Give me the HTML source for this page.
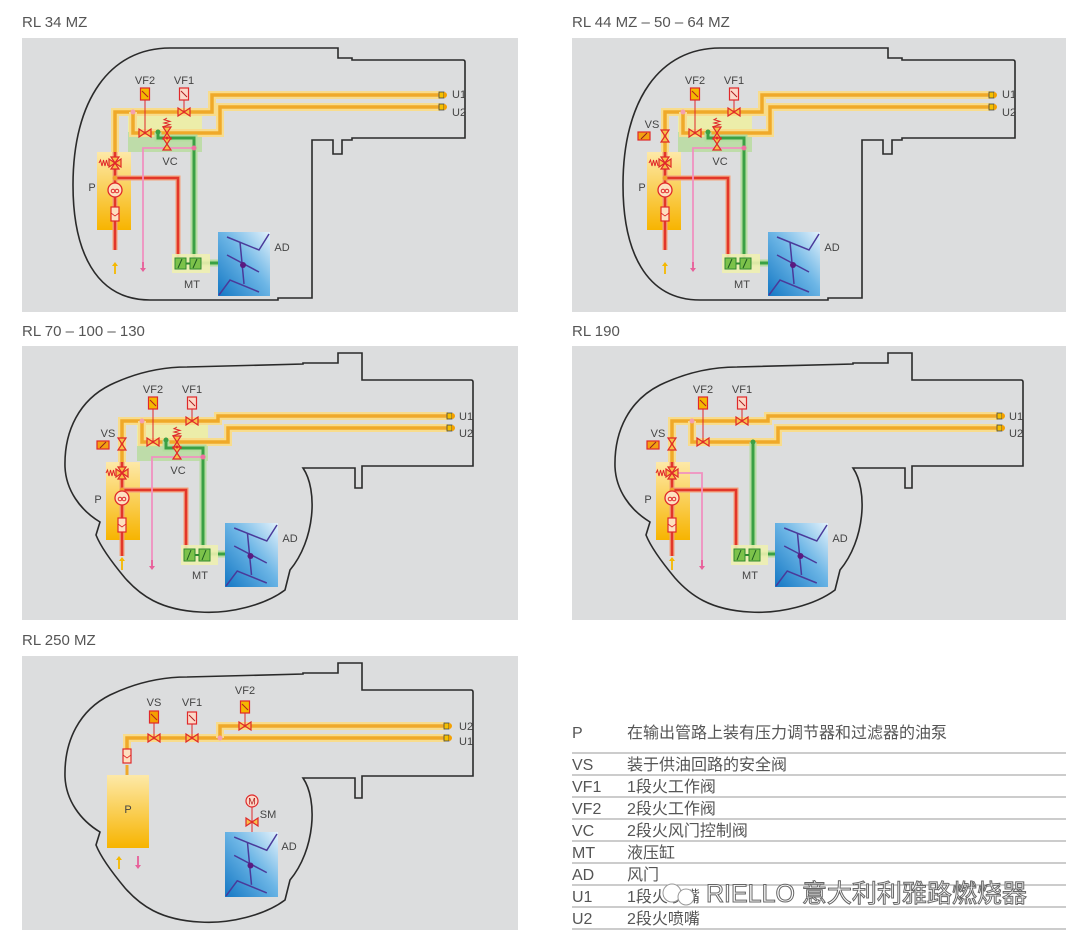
<!DOCTYPE html>
<html><head><meta charset="utf-8">
<style>
html,body{margin:0;padding:0;background:#fff;}
body{width:1080px;height:942px;overflow:hidden;}
svg{display:block;}
.t{font-family:"Liberation Sans",sans-serif;font-size:15px;fill:#555;}
.l{font-family:"Liberation Sans",sans-serif;font-size:11px;fill:#444;}
.lg{font-family:"Liberation Sans","Noto Sans CJK SC",sans-serif;font-size:16px;fill:#555;}
</style></head>
<body>
<svg id="s" width="1080" height="942" xmlns="http://www.w3.org/2000/svg">
<defs>
<linearGradient id="pg" x1="0" y1="0" x2="0" y2="1"><stop offset="0" stop-color="#fde9a8"/><stop offset="1" stop-color="#f7b400"/></linearGradient>
<linearGradient id="ag" x1="0" y1="1" x2="1" y2="0"><stop offset="0" stop-color="#1478c4"/><stop offset="0.55" stop-color="#6db6e6"/><stop offset="1" stop-color="#e4f2fb"/></linearGradient>
</defs>
</svg>
<script>
var S='';
function P(pts){return pts.map(function(p){return p[0]+','+p[1]}).join(' ');}
function line(pts,c,w){S+='<polyline points="'+P(pts)+'" fill="none" stroke="'+c+'" stroke-width="'+w+'" stroke-linejoin="miter"/>';}
function pipe(pts){line(pts,'#f8dc8c',8);line(pts,'#efa92a',3.5);}
function red(pts){line(pts,'#f3a07a',5);line(pts,'#e2362a',2.5);}
function green(pts){line(pts,'#b5dca0',7);line(pts,'#3aa044',3);}
function pink(pts){line(pts,'#f090c0',1.8);}
function rect(x,y,w,h,f,st,op){S+='<rect x="'+x+'" y="'+y+'" width="'+w+'" height="'+h+'" fill="'+f+'"'+(st?' stroke="'+st+'" stroke-width="1"':'')+(op?' opacity="'+op+'"':'')+'/>';}
function dot(x,y,c,r){S+='<circle cx="'+x+'" cy="'+y+'" r="'+(r||2.5)+'" fill="'+c+'"/>';}
function txt(x,y,t,cls,anchor){S+='<text x="'+x+'" y="'+y+'" class="'+(cls||'l')+'"'+(anchor?' text-anchor="'+anchor+'"':' text-anchor="middle"')+'>'+t+'</text>';}
function valve(x,y,vert){
  var d=vert?'M'+(x-4)+','+(y-6)+' L'+(x+4)+','+(y-6)+' L'+(x-4)+','+(y+6)+' L'+(x+4)+','+(y+6)+' Z':'M'+(x-6)+','+(y-4)+' L'+(x-6)+','+(y+4)+' L'+(x+6)+','+(y-4)+' L'+(x+6)+','+(y+4)+' Z';
  S+='<path d="'+d+'" fill="#f7c04a" stroke="#e0282a" stroke-width="1.2"/>';
}
function sol(x,y,f){S+='<rect x="'+(x-4.5)+'" y="'+(y-6)+'" width="9" height="12" fill="'+f+'" stroke="#e0282a" stroke-width="1.2"/><line x1="'+(x-3)+'" y1="'+(y-3)+'" x2="'+(x+3)+'" y2="'+(y+3)+'" stroke="#b02020" stroke-width="1"/>';}
function solH(x,y){S+='<rect x="'+(x-6)+'" y="'+(y-4)+'" width="12" height="8" fill="#f3a010" stroke="#e0282a" stroke-width="1.2"/><line x1="'+(x-3)+'" y1="'+(y+3)+'" x2="'+(x+3)+'" y2="'+(y-3)+'" stroke="#902020" stroke-width="1"/>';}
function spring(x,y1,y2,horiz){
  var d='',n=6,i;
  if(horiz){d='M'+y1+','+x;for(i=1;i<=n;i++){d+=' L'+(y1+(y2-y1)*i/n)+','+(x+(i%2?-3:3));}}
  else{d='M'+x+','+y1;for(i=1;i<=n;i++){d+=' L'+(x+(i%2?-3:3))+','+(y1+(y2-y1)*i/n);}}
  S+='<path d="'+d+'" fill="none" stroke="#e0282a" stroke-width="1"/>';
}
function fourway(x,y){valve(x,y,false);valve(x,y,true);spring(y,x-16,x-7,true);dot(x,y,'#e0282a',1.5);}
function pumpC(x,y){S+='<circle cx="'+x+'" cy="'+y+'" r="7" fill="#fde0c0" stroke="#e0282a" stroke-width="1.3"/><circle cx="'+(x-2)+'" cy="'+(y+1)+'" r="1.8" fill="none" stroke="#e0282a"/><circle cx="'+(x+2)+'" cy="'+(y+1)+'" r="1.8" fill="none" stroke="#e0282a"/>';}
function filt(x,y){S+='<rect x="'+(x-4)+'" y="'+(y-7)+'" width="8" height="14" fill="#fde0c0" stroke="#e0282a" stroke-width="1.2"/><path d="M'+(x-4)+','+(y-1)+' L'+x+','+(y+2)+' L'+(x+4)+','+(y-1)+'" fill="none" stroke="#e0282a" stroke-width="0.8"/>';}
function vc(x,y){spring(x,y,y+10,false);valve(x,y+15,true);valve(x,y+26,true);dot(x,y+20,'#e0282a',1.5);}
function mt(x,y,w,h){rect(x-2,y-2,w+4,h+4,'#eef0b0',null,0.9);rect(x+1,y+2,11,h-4,'#7cc24a','#2f8a30');rect(x+16,y+2,11,h-4,'#7cc24a','#2f8a30');
 S+='<line x1="'+(x+4)+'" y1="'+(y+h-3)+'" x2="'+(x+8)+'" y2="'+(y+3)+'" stroke="#1d5a20"/><line x1="'+(x+19)+'" y1="'+(y+h-3)+'" x2="'+(x+23)+'" y2="'+(y+3)+'" stroke="#1d5a20"/>';
 line([[x+12,y+h/2],[x+16,y+h/2]],'#2f8a30',2);}
function ad(x,y,w,h){rect(x,y,w,h,'url(#ag)');var sx=w/52,sy=h/64;function q(a,b){return [x+a*sx,y+b*sy];}
 var c='#4a3a9a';line([q(9,5),q(41,18),q(51,2)],c,1.5);line([q(9,23),q(41,40)],c,1.5);line([q(1,63),q(12,48),q(41,60)],c,1.5);line([q(22,10),q(26,52)],c,1.5);
 var d=q(25,33);dot(d[0],d[1],'#5a1a80',3);}
function noz(x,y){S+='<rect x="'+(x-1)+'" y="'+(y-3)+'" width="5" height="6" fill="#f5c000" stroke="#444" stroke-width="0.8"/><path d="M'+(x+4)+','+(y-3)+' a3,3 0 0 1 0,6 Z" fill="#f5a000"/>';}
function arrUp(x,y1,y2,c){line([[x,y1],[x,y2+3]],c,1.8);S+='<path d="M'+(x-3)+','+(y2+4)+' L'+x+','+y2+' L'+(x+3)+','+(y2+4)+' Z" fill="'+c+'"/>';}
function arrDn(x,y1,y2,c){line([[x,y1],[x,y2-3]],c,1.8);S+='<path d="M'+(x-3)+','+(y2-4)+' L'+x+','+y2+' L'+(x+3)+','+(y2-4)+' Z" fill="'+c+'"/>';}
function outline1(){S+='<path d="M170,48 L338,48 L338,58 L352,58 L352,60 L463,60 Q465,60 465,62 L465,138 L352,138 L352,140 L342,140 L342,154 L333,154 L333,140 L312,140 L312,298 L278,298 L278,300 L150,300 C95,300 73,250 73,185 C73,100 110,48 170,48 Z" fill="none" stroke="#2a2a2a" stroke-width="1.6"/>';}
function outline3(){S+='<path d="M187,367 L303,364 L303,363 L338,363 L338,353 L362,353 L362,380 L471,380 Q473,380 473,382 L473,466 L362,466 L362,488 L355,488 L355,468 L303,468 C318,490 315,540 290,570 L285,590 C265,605 230,614 200,612 C160,610 140,595 125,578 C110,560 100,545 96,535 L100,522 C80,510 66,490 65,467 C64,430 80,400 110,385 C135,373 160,367 187,367 Z" fill="none" stroke="#2a2a2a" stroke-width="1.6"/>';}
function g(dx,dy){S+='<g transform="translate('+dx+','+dy+')">';}
function ge(){S+='</g>';}

rect(22,38,496,274,'#dcddde');rect(572,38,494,274,'#dcddde');
rect(22,346,496,274,'#dcddde');rect(572,346,494,274,'#dcddde');
rect(22,656,496,274,'#dcddde');
txt(22,27,'RL 34 MZ','t','start');txt(572,27,'RL 44 MZ – 50 – 64 MZ','t','start');
txt(22,336,'RL 70 – 100 – 130','t','start');txt(572,336,'RL 190','t','start');
txt(22,645,'RL 250 MZ','t','start');

function panelA(vs){
 outline1();
 rect(128,108,74,27,'#eef0a0',null,0.85);rect(128,132,74,20,'#b9dca0',null,0.85);
 rect(97,152,34,78,'url(#pg)');
 pipe([[115,152],[115,112],[212,112],[212,95],[440,95]]);
 pipe([[133,112],[133,133],[220,133],[220,107],[440,107]]);
 red([[115,152],[115,250]]);red([[115,178],[178,178],[178,263]]);
 green([[158,132],[158,138],[194,138],[194,263],[218,263]]);
 pink([[194,148],[143,148],[143,266]]);arrDn(143,262,272,'#e8609a');
 dot(194,148,'#f070a0');dot(133,112,'#f4a0b0');dot(158,132,'#3aa044');dot(115,178,'#f0a030');
 arrUp(115,274,262,'#f5b800');
 line([[145,100],[145,133]],'#e0282a',1);sol(145,94,'#f5b800');valve(145,133,false);
 line([[184,100],[184,112]],'#e0282a',1);sol(184,94,'#fcd8c8');valve(184,112,false);
 vc(167,118);
 fourway(115,163);pumpC(115,190);filt(115,214);
 mt(174,256,34,15);ad(218,232,52,64);
 noz(440,95);noz(440,107);
 txt(145,84,'VF2');txt(184,84,'VF1');txt(170,165,'VC');txt(92,191,'P');txt(192,288,'MT');txt(282,251,'AD');txt(452,98,'U1','l','start');txt(452,116,'U2','l','start');
 if(vs){solH(94,136);valve(115,136,true);txt(102,128,'VS');}
}
panelA(false);g(550,0);panelA(true);ge();

function panelB(full){
 outline3();
 if(full){rect(137,418,71,29,'#eef0a0',null,0.85);rect(137,446,71,15,'#b9dca0',null,0.85);}
 rect(106,462,34,78,'url(#pg)');
 pipe([[122,462],[122,421],[218,421],[218,416],[448,416]]);
 pipe([[142,421],[142,442],[228,442],[228,428],[448,428]]);
 red([[122,462],[122,556]]);red([[122,490],[186,490],[186,554]]);
 if(full){green([[166,440],[166,448],[203,448],[203,554],[225,554]]);pink([[203,457],[152,457],[152,566]]);dot(203,457,'#f070a0');dot(166,440,'#3aa044');vc(177,427);txt(178,474,'VC');}
 else{green([[203,442],[203,554],[225,554]]);pink([[128,473],[152,473],[152,566]]);dot(203,442,'#3aa044');}
 arrDn(152,560,570,'#e8609a');
 dot(142,421,'#f4a0b0');dot(122,490,'#f0a030');
 arrUp(122,570,557,'#f5b800');
 solH(103,445);valve(122,444,true);
 line([[153,409],[153,442]],'#e0282a',1);sol(153,403,'#f5b800');valve(153,442,false);
 line([[192,409],[192,421]],'#e0282a',1);sol(192,403,'#fcd8c8');valve(192,421,false);
 fourway(122,473);pumpC(122,498);filt(122,525);
 mt(183,547,33,16);ad(225,523,53,64);
 noz(448,416);noz(448,428);
 txt(108,437,'VS');txt(153,393,'VF2');txt(192,393,'VF1');txt(98,503,'P');txt(200,579,'MT');txt(290,542,'AD');txt(459,420,'U1','l','start');txt(459,437,'U2','l','start');
}
panelB(true);g(550,0);panelB(false);ge();

g(0,310);outline3();ge();
pipe([[127,750],[127,738],[445,738]]);pipe([[220,738],[220,726],[445,726]]);
line([[127,765],[127,775]],'#efa92a',3);
filt(127,756);
S+='<rect x="107" y="775" width="42" height="73" fill="url(#pg)"/>';
txt(128,813,'P');
line([[154,723],[154,738]],'#e0282a',1);sol(154,717,'#f5a000');valve(154,738,false);
line([[192,724],[192,738]],'#e0282a',1);sol(192,718,'#fcd8c8');valve(192,738,false);
line([[245,713],[245,726]],'#e0282a',1);sol(245,707,'#f5b800');valve(245,726,false);
dot(220,738,'#f4a0b0');
line([[252,807],[252,832]],'#e0282a',1);
S+='<circle cx="252" cy="801" r="6" fill="#fcd8c8" stroke="#e0282a" stroke-width="1.2"/><text x="252" y="804.5" font-family="Liberation Sans" font-size="9" fill="#b02020" text-anchor="middle">M</text>';
valve(252,822,false);
ad(225,832,53,65);
arrUp(119,869,856,'#f5b800');arrDn(138,856,869,'#e8609a');
noz(445,726);noz(445,738);
txt(154,706,'VS');txt(192,706,'VF1');txt(245,694,'VF2');txt(268,818,'SM');txt(289,850,'AD');txt(459,730,'U2','l','start');txt(459,745,'U1','l','start');

var rows=[['P','在输出管路上装有压力调节器和过滤器的油泵',738],['VS','装于供油回路的安全阀',770],['VF1','1段火工作阀',792],['VF2','2段火工作阀',814],['VC','2段火风门控制阀',836],['MT','液压缸',858],['AD','风门',880],['U1','1段火喷嘴',902],['U2','2段火喷嘴',924]];
rows.forEach(function(r){txt(572,r[2],r[0],'lg','start');txt(627,r[2],r[1],'lg','start');});
[753,775,797,819,841,863,885,907,929].forEach(function(y){S+='<line x1="572" y1="'+y+'" x2="1066" y2="'+y+'" stroke="#9a9a9a" stroke-width="1"/>';});
S+='<circle cx="672" cy="893" r="9" fill="#fff" stroke="#999"/><circle cx="686" cy="897" r="8" fill="#fff" stroke="#999"/>';
S+='<text x="706" y="902" font-family="Liberation Sans,Noto Sans CJK SC,sans-serif" font-size="25" fill="#fff" stroke="#666" stroke-width="1">RIELLO 意大利利雅路燃烧器</text>';

document.getElementById('s').insertAdjacentHTML('beforeend',S);
</script>
</body></html>
